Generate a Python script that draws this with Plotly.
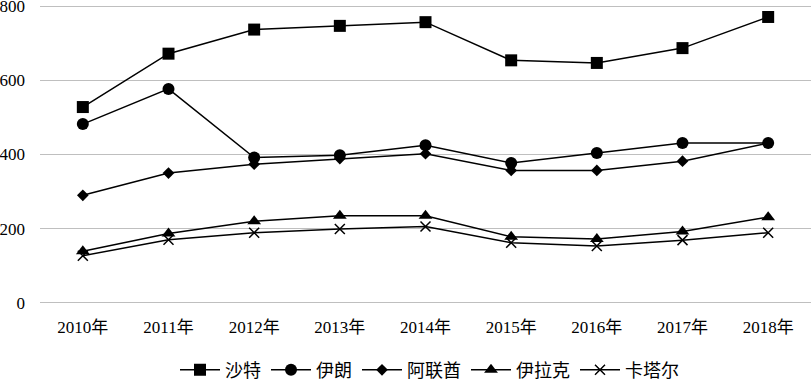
import plotly.graph_objects as go

years = ["2010年", "2011年", "2012年", "2013年", "2014年", "2015年", "2016年", "2017年", "2018年"]
saudi = [528, 672, 737, 747, 757, 654, 647, 687, 771]
iran = [482, 577, 392, 398, 425, 377, 404, 431, 431]
uae = [290, 350, 374, 389, 402, 357, 357, 382, 431]
iraq = [139, 187, 220, 235, 235, 178, 172, 192, 231]
qatar = [127, 170, 189, 199, 206, 162, 153, 169, 189]
yticks = [0, 200, 400, 600, 800]

series = [
    ("沙特", saudi, "square", 12),
    ("伊朗", iran, "circle", 12),
    ("阿联酋", uae, "diamond", 9),
    ("伊拉克", iraq, "triangle-up", 12),
    ("卡塔尔", qatar, "x-thin", 10),
]

fig = go.Figure()
for name, vals, sym, size in series:
    fig.add_trace(go.Scatter(
        x=years, y=vals, name=name, mode="lines+markers",
        line=dict(color="black", width=1.5),
        marker=dict(symbol=sym, size=size, color="black",
                    line=dict(color="black", width=1.5 if sym == "x-thin" else 0)),
    ))

font = dict(family="Liberation Serif, Times New Roman, Noto Sans CJK SC, serif", size=17, color="black")
lfont = dict(font, size=18)
fig.update_layout(
    width=811, height=380,
    margin=dict(l=40, r=0, t=4, b=75, autoexpand=False),
    paper_bgcolor="white", plot_bgcolor="white",
    font=font,
    showlegend=True,
    legend=dict(orientation="h", x=175 / 811, xanchor="left", xref="container",
                y=0.026, yanchor="middle", yref="container",
                font=lfont, traceorder="normal", itemwidth=40),
    xaxis=dict(type="category", range=[-0.5, 8.5], showgrid=False, showline=False,
               zeroline=False, ticks="", tickfont=font, automargin=False,
               ticklabelstandoff=10),
    yaxis=dict(range=[-6, 806], tickvals=yticks, showgrid=True,
               gridcolor="#bfbfbf", gridwidth=1, zeroline=False, showline=False,
               ticks="", tickfont=font, ticklabelstandoff=14, automargin=False,
               ticklabeloverflow="allow"),
)
fig.write_html("out.html", config={"displayModeBar": False},
               post_script="document.body.style.margin='0';document.body.style.padding='0';")
